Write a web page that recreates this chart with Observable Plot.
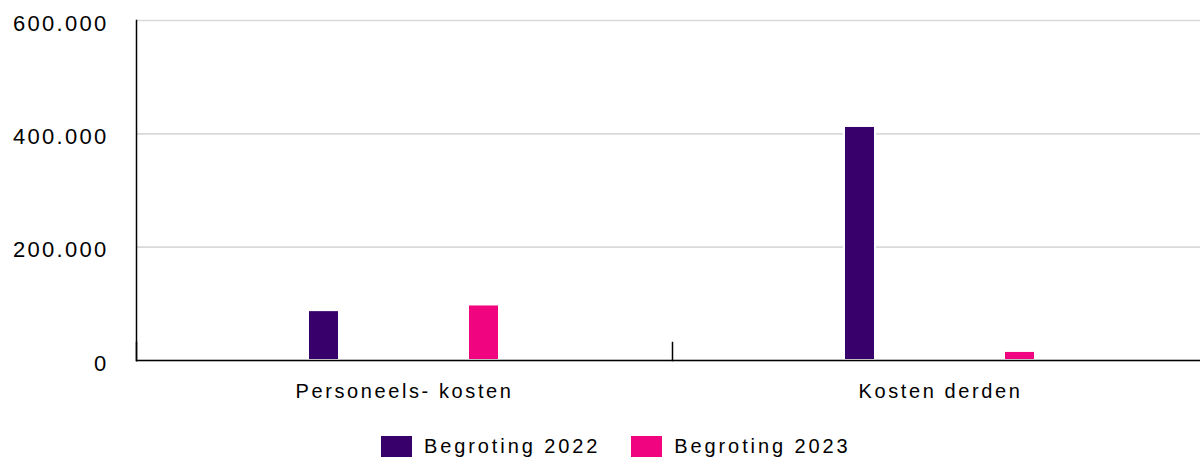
<!DOCTYPE html>
<html>
<head>
<meta charset="utf-8">
<script src="https://cdn.jsdelivr.net/npm/d3@7"></script>
<script src="https://cdn.jsdelivr.net/npm/@observablehq/plot@0.6"></script>
<style>
  html, body { margin: 0; padding: 0; background: #fff; overflow: hidden; }
  #chart svg { display: block; }
  .legend { display: flex; align-items: center; margin-top: 10px; padding-left: 381px;
    font-family: "Liberation Sans", Arial, sans-serif; font-size: 20px; letter-spacing: 2.9px; color: #000; }
  .legend .item { display: flex; align-items: center; margin-right: 31px; }
  .legend .sw { width: 31px; height: 21px; margin-right: 12px; }
</style>
</head>
<body>
<div id="chart"></div>
<script>
const categories = ["Personeels- kosten", "Kosten derden"];
const series = ["Begroting 2022", "Begroting 2023"];
const values2022 = [88000, 413000];
const values2023 = [98000, 16000];
const colors = ["#37006b", "#f0047f"];
const yTicks = [0, 200000, 400000, 600000];

const data = [];
categories.forEach((c, i) => {
  data.push({category: c, series: series[0], value: values2022[i]});
  data.push({category: c, series: series[1], value: values2023[i]});
});

const nl = d3.formatLocale({decimal: ",", thousands: ".", grouping: [3], currency: ["€ ", ""]});
const fmt = nl.format(",d");

const plot = Plot.plot({
  width: 1200,
  height: 425,
  marginLeft: 136,
  marginRight: -8,
  marginTop: 20,
  marginBottom: 65,
  style: {fontFamily: "'Liberation Sans', Arial, sans-serif", color: "#000", background: "#fff"},
  fx: {domain: categories, padding: 0},
  x: {domain: series, paddingInner: 0.806, paddingOuter: 1.078, align: 0.5, axis: null},
  y: {domain: [0, 600000], axis: null},
  color: {domain: series, range: colors},
  marks: [
    Plot.gridY(yTicks, {stroke: "#d9d9d9", strokeOpacity: 1, strokeWidth: 1.7}),
    Plot.barY(data, {fx: "category", x: "series", y: "value", fill: "series", stroke: "#fff", strokeWidth: 2}),
    Plot.ruleY([0], {stroke: "#000", strokeWidth: 1.5}),
    Plot.frame({anchor: "left", facetAnchor: "left", stroke: "#000", strokeWidth: 1.5}),
    Plot.frame({anchor: "left", insetTop: 322, stroke: "#000", strokeWidth: 1.5}),
    Plot.axisY(yTicks, {tickSize: 0, tickPadding: 28, tickFormat: fmt, label: null, fontSize: 22, dy: 3}),
    Plot.axisFx({anchor: "bottom", tickSize: 0, tickPadding: 23, label: null, fontSize: 20})
  ]
});

document.getElementById("chart").appendChild(plot);
d3.select(plot).selectAll("[aria-label='fx-axis tick label'] text")
  .style("letter-spacing", "2.6px");
d3.select(plot).selectAll("[aria-label='y-axis tick label'] text")
  .style("letter-spacing", "2.3px");

const legend = d3.select("body").append("div").attr("class", "legend");
series.forEach((s, i) => {
  const it = legend.append("div").attr("class", "item");
  it.append("div").attr("class", "sw").style("background", colors[i]);
  it.append("span").text(s);
});
</script>
</body>
</html>
